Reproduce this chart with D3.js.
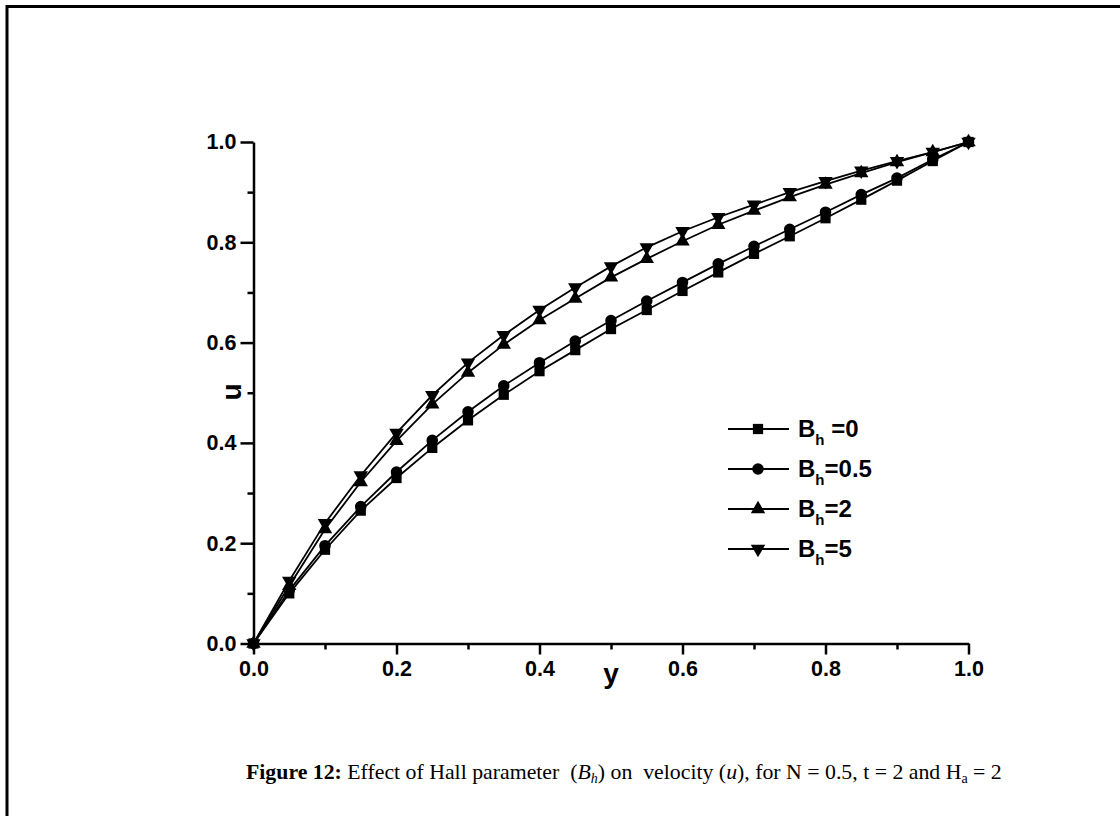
<!DOCTYPE html>
<html>
<head>
<meta charset="utf-8">
<script src="https://cdn.jsdelivr.net/npm/d3@7"></script>
<style>
  body { margin: 0; background: #fff; }
  svg { display: block; }
  text { white-space: pre; }
</style>
</head>
<body>
<svg id="chart" width="1120" height="816"></svg>
<script>
// position across the channel
const yPos = [0, 0.05, 0.1, 0.15, 0.2, 0.25, 0.3, 0.35, 0.4, 0.45, 0.5,
              0.55, 0.6, 0.65, 0.7, 0.75, 0.8, 0.85, 0.9, 0.95, 1.0];

// velocity for each Hall parameter
const uBh0  = [0, 0.100, 0.187, 0.265, 0.330, 0.390, 0.445, 0.496, 0.543, 0.585, 0.627,
               0.665, 0.703, 0.740, 0.777, 0.812, 0.848, 0.885, 0.923, 0.962, 1.0];
const uBh05 = [0, 0.106, 0.195, 0.273, 0.342, 0.405, 0.462, 0.514, 0.560, 0.603, 0.644,
               0.683, 0.720, 0.757, 0.792, 0.826, 0.860, 0.895, 0.928, 0.965, 1.0];
const uBh2  = [0, 0.115, 0.228, 0.322, 0.404, 0.477, 0.540, 0.596, 0.645, 0.688, 0.730,
               0.767, 0.802, 0.835, 0.863, 0.890, 0.915, 0.938, 0.960, 0.980, 1.0];
const uBh5  = [0, 0.125, 0.240, 0.335, 0.420, 0.495, 0.560, 0.615, 0.665, 0.710, 0.752,
               0.790, 0.822, 0.850, 0.875, 0.900, 0.922, 0.943, 0.962, 0.980, 1.0];

const legendLabels = ['0', '0.5', '2', '5'];
const xTicks = [0, 0.2, 0.4, 0.6, 0.8, 1.0];
const yTicks = [0, 0.2, 0.4, 0.6, 0.8, 1.0];

const series = [
  {label: legendLabels[0], values: uBh0,  shape: d3.symbolSquare,   size: 105, rot: 0},
  {label: legendLabels[1], values: uBh05, shape: d3.symbolCircle,   size: 105, rot: 0},
  {label: legendLabels[2], values: uBh2,  shape: d3.symbolTriangle, size: 90,  rot: 0},
  {label: legendLabels[3], values: uBh5,  shape: d3.symbolTriangle, size: 90,  rot: 180}
];

const svg = d3.select('#chart');

// outer frame (only left and top edges fall inside the page)
svg.append('rect')
  .attr('x', 7).attr('y', 6.5)
  .attr('width', 1300).attr('height', 1000)
  .attr('fill', 'none').attr('stroke', '#000').attr('stroke-width', 3);

const x = d3.scaleLinear().domain([0, 1]).range([253.5, 968.5]);
const y = d3.scaleLinear().domain([0, 1]).range([643.5, 142]);

const tickFont = 'Arial, "Liberation Sans", sans-serif';

// X axis
const xAxis = svg.append('g').attr('transform', `translate(0, ${y(0)})`);
xAxis.call(d3.axisBottom(x).tickValues(xTicks).tickFormat(d3.format('.1f'))
    .tickSizeInner(11).tickSizeOuter(0).tickPadding(6));
xAxis.append('g').call(d3.axisBottom(x).tickValues([0.1, 0.3, 0.5, 0.7, 0.9])
    .tickFormat('').tickSizeInner(6).tickSizeOuter(0))
  .select('.domain').remove();

// Y axis
const yAxis = svg.append('g').attr('transform', `translate(${x(0)}, 0)`);
yAxis.call(d3.axisLeft(y).tickValues(yTicks).tickFormat(d3.format('.1f'))
    .tickSizeInner(13).tickSizeOuter(0).tickPadding(4));
yAxis.append('g').call(d3.axisLeft(y).tickValues([0.1, 0.3, 0.5, 0.7, 0.9])
    .tickFormat('').tickSizeInner(6).tickSizeOuter(0))
  .select('.domain').remove();

svg.selectAll('.domain, .tick line').attr('stroke', '#000').attr('stroke-width', 2.5);
svg.selectAll('.tick text')
  .attr('fill', '#000')
  .style('font-family', tickFont)
  .style('font-weight', 'bold')
  .style('font-size', '21.5px');

// axis titles
svg.append('text')
  .attr('x', 611).attr('y', 683)
  .attr('text-anchor', 'middle')
  .style('font-family', tickFont).style('font-weight', 'bold').style('font-size', '28px')
  .text('y');

svg.append('text')
  .attr('transform', 'translate(241, 392) rotate(-90)')
  .attr('text-anchor', 'middle')
  .style('font-family', tickFont).style('font-weight', 'bold').style('font-size', '28px')
  .text('u');

// lines and markers
const line = d3.line()
  .x((d, i) => x(yPos[i]))
  .y(d => y(d));

series.forEach(s => {
  svg.append('path')
    .datum(s.values)
    .attr('d', line)
    .attr('fill', 'none')
    .attr('stroke', '#000')
    .attr('stroke-width', 1.8);

  svg.append('g').selectAll('path')
    .data(s.values)
    .join('path')
    .attr('d', d3.symbol().type(s.shape).size(s.size))
    .attr('transform', (d, i) => `translate(${x(yPos[i])}, ${y(d)}) rotate(${s.rot})`)
    .attr('fill', '#000');
});

// legend
const legend = svg.append('g').attr('transform', 'translate(728, 429)');
series.forEach((s, i) => {
  const g = legend.append('g').attr('transform', `translate(0, ${i * 40})`);
  g.append('line').attr('x1', 0).attr('x2', 61)
    .attr('stroke', '#000').attr('stroke-width', 1.8);
  g.append('path')
    .attr('d', d3.symbol().type(s.shape).size(s.size))
    .attr('transform', `translate(30, 0) rotate(${s.rot})`)
    .attr('fill', '#000');
  const t = g.append('text')
    .attr('x', 70).attr('y', 8)
    .style('font-family', tickFont).style('font-weight', 'bold').style('font-size', '24px');
  t.append('tspan').text('B');
  t.append('tspan').attr('dy', 8).style('font-size', '15px').text('h');
  t.append('tspan').attr('dy', -8).text((i === 0 ? ' ' : '') + '=' + s.label);
});

// caption
const cap = svg.append('text')
  .attr('x', 246).attr('y', 779)
  .style('font-family', '"Times New Roman", "Liberation Serif", serif')
  .style('font-size', '21.8px');
cap.append('tspan').style('font-weight', 'bold').text('Figure 12:');
cap.append('tspan').text(' Effect of Hall parameter  (');
cap.append('tspan').style('font-style', 'italic').text('B');
cap.append('tspan').style('font-style', 'italic').style('font-size', '14px').attr('dy', 4).text('h');
cap.append('tspan').attr('dy', -4).text(') on  velocity (');
cap.append('tspan').style('font-style', 'italic').text('u');
cap.append('tspan').text('), for N = 0.5, t = 2 and H');
cap.append('tspan').style('font-size', '14px').attr('dy', 4).text('a');
cap.append('tspan').attr('dy', -4).text(' = 2');
</script>
</body>
</html>
